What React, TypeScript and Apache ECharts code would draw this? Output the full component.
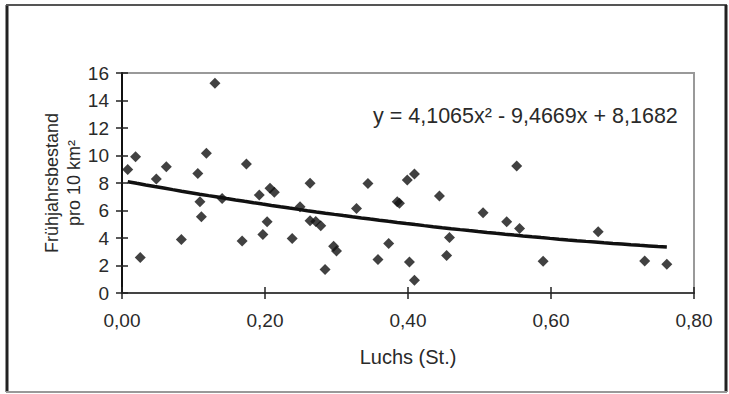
import React, { useEffect, useRef } from "react";
import * as echarts from "echarts";

const luchs = [
  0.008, 0.019, 0.0255, 0.048, 0.062, 0.083, 0.106, 0.109, 0.111, 0.118,
  0.13, 0.14, 0.168, 0.174, 0.192, 0.197, 0.203, 0.207, 0.213, 0.238,
  0.249, 0.263, 0.263, 0.271, 0.278, 0.284, 0.296, 0.3, 0.328, 0.344,
  0.358, 0.373, 0.385, 0.388, 0.399, 0.402, 0.409, 0.409, 0.444, 0.454,
  0.458, 0.505, 0.538, 0.552, 0.556, 0.589, 0.666, 0.731, 0.762,
];
const bestand = [
  8.99, 9.91, 2.58, 8.29, 9.18, 3.89, 8.7, 6.63, 5.54, 10.16,
  15.26, 6.88, 3.79, 9.38, 7.12, 4.25, 5.18, 7.61, 7.32, 3.96,
  6.27, 7.99, 5.25, 5.2, 4.9, 1.71, 3.4, 3.06, 6.15, 7.97,
  2.43, 3.6, 6.63, 6.52, 8.21, 2.26, 8.65, 0.93, 7.05, 2.73,
  4.04, 5.83, 5.18, 9.23, 4.69, 2.31, 4.45, 2.33, 2.09,
];
// polynomial trendline shown in the chart: y = a x^2 + b x + c
const trendCoefficients = [4.1065, -9.4669, 8.1682];
const trendLabel = "y = 4,1065x² - 9,4669x + 8,1682";
const xTitle = "Luchs (St.)";
const yTitle = "Frühjahrsbestand\npro 10 km²";

const FONT = "Liberation Sans, Arial, sans-serif";
const TXT = "#2a2a2a";

export default function App() {
  const ref = useRef<HTMLDivElement>(null);
  useEffect(() => {
    if (!ref.current) return;
    const chart = echarts.init(ref.current, null, { renderer: "svg" });
    const pts = luchs.map((x, i) => [x, bestand[i]]);
    const xmin = Math.min(...luchs);
    const xmax = Math.max(...luchs);
    const steps = 60;
    const trend: number[][] = [];
    for (let i = 0; i <= steps; i++) {
      const x = xmin + ((xmax - xmin) * i) / steps;
      const [a, b, c] = trendCoefficients;
      trend.push([x, a * x * x + b * x + c]);
    }
    const fmtX = (v: number) => v.toFixed(2).replace(".", ",");
    const labelStyle = { fontFamily: FONT, fontSize: 19, color: TXT };
    chart.setOption({
      animation: false,
      backgroundColor: "#fff",
      grid: {
        left: 122,
        right: 35,
        top: 73,
        bottom: 101,
        show: true,
        borderColor: "#999",
        borderWidth: 2,
      },
      xAxis: [
        {
          type: "value",
          position: "bottom",
          min: 0,
          max: 0.8,
          interval: 0.2,
          splitLine: { show: false },
          axisLine: { lineStyle: { color: "#444", width: 2 } },
          axisTick: { length: 6, lineStyle: { color: "#222", width: 1.5 } },
          axisLabel: { ...labelStyle, margin: 18, formatter: fmtX },
          name: xTitle,
          nameLocation: "middle",
          nameGap: 54,
          nameMoveOverlap: false,
          nameTextStyle: { fontFamily: FONT, fontSize: 20, color: TXT },
        },
        {
          type: "value",
          position: "bottom",
          min: 0,
          max: 0.8,
          interval: 0.2,
          splitLine: { show: false },
          axisLine: { show: false },
          axisTick: { inside: true, length: 6, lineStyle: { color: "#222", width: 1.5 } },
          axisLabel: { show: false },
        },
      ],
      yAxis: [
        {
          type: "value",
          position: "left",
          min: 0,
          max: 16,
          interval: 2,
          splitLine: { show: false },
          axisLine: { lineStyle: { color: "#111", width: 2 } },
          axisTick: { length: 6, lineStyle: { color: "#222", width: 1.5 } },
          axisLabel: { ...labelStyle, margin: 13 },
          name: yTitle,
          nameLocation: "middle",
          nameRotate: 90,
          nameGap: 37,
          nameMoveOverlap: false,
          nameTextStyle: { fontFamily: FONT, fontSize: 18, color: TXT, lineHeight: 22 },
        },
        {
          type: "value",
          position: "left",
          min: 0,
          max: 16,
          interval: 2,
          splitLine: { show: false },
          axisLine: { show: false },
          axisTick: { inside: true, length: 6, lineStyle: { color: "#222", width: 1.5 } },
          axisLabel: { show: false },
        },
      ],
      series: [
        {
          type: "scatter",
          xAxisIndex: 0,
          yAxisIndex: 0,
          data: pts,
          symbol: "diamond",
          symbolSize: 11,
          itemStyle: { color: "#111" },
          z: 3,
        },
        {
          type: "line",
          xAxisIndex: 0,
          yAxisIndex: 0,
          data: trend,
          showSymbol: false,
          smooth: false,
          lineStyle: { color: "#111", width: 3.5 },
          z: 4,
        },
      ],
      graphic: [
        { type: "line", shape: { x1: 7, y1: 5, x2: 7, y2: 392 }, style: { stroke: "#222", lineWidth: 3 } },
        { type: "line", shape: { x1: 6, y1: 5, x2: 727, y2: 5 }, style: { stroke: "#555", lineWidth: 2 } },
        { type: "line", shape: { x1: 726, y1: 5, x2: 726, y2: 392 }, style: { stroke: "#222", lineWidth: 3 } },
        { type: "line", shape: { x1: 6, y1: 392, x2: 727, y2: 392 }, style: { stroke: "#999", lineWidth: 2 } },
        {
          type: "text",
          left: 373,
          top: 105,
          style: { text: trendLabel, fontFamily: FONT, fontSize: 21.5, fill: TXT },
        },
      ],
    });
    return () => chart.dispose();
  }, []);
  return (
    <div
      ref={ref}
      style={{ position: "fixed", left: 0, top: 0, width: 729, height: 394 }}
    />
  );
}
